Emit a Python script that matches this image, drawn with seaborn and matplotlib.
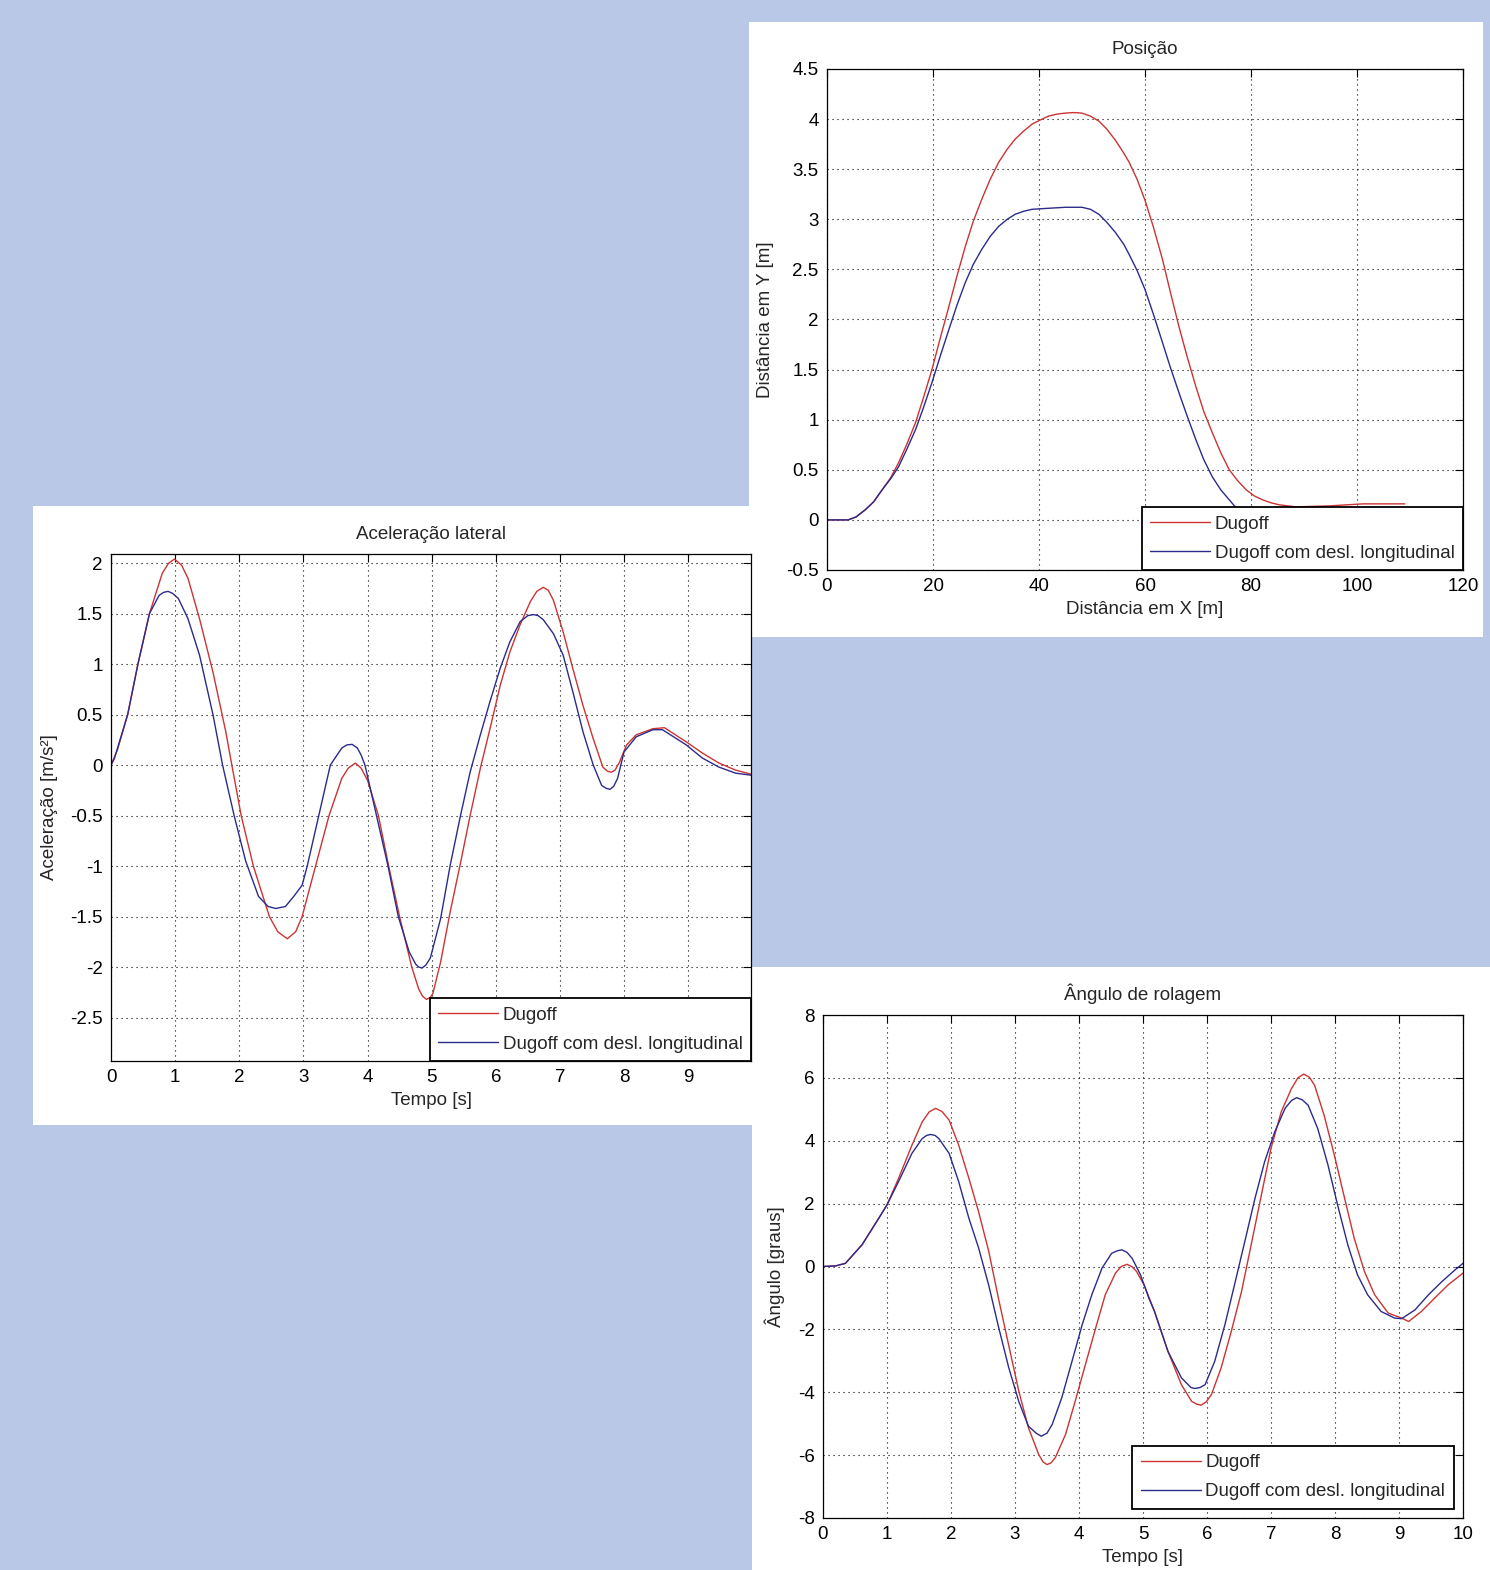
import matplotlib
matplotlib.use("Agg")
import matplotlib.pyplot as plt
from matplotlib.patches import Rectangle
from matplotlib.ticker import FormatStrFormatter
import seaborn as sns

# Posicao (trajectory) - distance X [m] vs distance Y [m]
pos_x_dugoff = [0, 2, 4, 5.5, 7.2, 8.8, 10.4, 12.0, 13.5, 15.1, 16.7, 18.2, 19.8, 21.4, 23.0,
                24.5, 26.1, 27.6, 29.2, 30.8, 32.4, 34.0, 35.5, 37.1, 38.7, 40.2, 41.8, 43.4,
                45.0, 46.5, 48.1, 49.7, 51.3, 52.8, 54.4, 56.0, 57.0, 58.5, 60.0, 61.6, 63.3,
                64.8, 66.4, 68.0, 69.6, 71.1, 72.7, 74.3, 75.9, 77.5, 79.1, 80.6, 82.2, 83.8,
                85.4, 88.5, 94.8, 101.1, 109]
pos_y_dugoff = [0, 0, 0.0, 0.03, 0.1, 0.18, 0.3, 0.42, 0.57, 0.76, 0.97, 1.22, 1.5, 1.82, 2.13,
                2.43, 2.73, 2.98, 3.2, 3.4, 3.57, 3.7, 3.8, 3.88, 3.95, 3.99, 4.03, 4.05,
                4.06, 4.065, 4.06, 4.03, 3.98, 3.9, 3.79, 3.66, 3.57, 3.4, 3.19, 2.92, 2.6,
                2.27, 1.93, 1.62, 1.33, 1.08, 0.87, 0.67, 0.5, 0.39, 0.3, 0.24, 0.2, 0.17,
                0.15, 0.13, 0.14, 0.16, 0.16]
pos_x_long = [0, 2, 4, 5.5, 7.2, 8.8, 10.4, 12.0, 13.5, 15.1, 16.7, 18.2, 19.8, 21.4, 23.0,
              24.5, 26.1, 27.6, 29.2, 30.8, 32.4, 34.0, 35.5, 37.1, 38.7, 41.8, 45.0, 48.1,
              49.7, 51.3, 52.8, 54.4, 56.0, 57.0, 58.5, 60.0, 61.6, 63.3, 64.8, 66.4, 68.0,
              69.6, 71.1, 72.7, 74.3, 75.9, 77.2, 79, 82]
pos_y_long = [0, 0, 0.0, 0.03, 0.1, 0.18, 0.3, 0.41, 0.53, 0.71, 0.9, 1.12, 1.37, 1.64, 1.9,
              2.14, 2.37, 2.55, 2.7, 2.83, 2.93, 3.0, 3.05, 3.08, 3.1, 3.11, 3.12, 3.12,
              3.1, 3.05, 2.97, 2.87, 2.75, 2.65, 2.49, 2.3, 2.05, 1.77, 1.52, 1.27, 1.03,
              0.8, 0.6, 0.43, 0.3, 0.2, 0.12, 0.05, 0.0]

# Aceleracao lateral [m/s2] vs tempo [s]
acc_t_dugoff = [0, 0.1, 0.26, 0.42, 0.6, 0.8, 0.9, 0.99, 1.1, 1.2, 1.38, 1.59, 1.79, 1.87,
                2.03, 2.22, 2.47, 2.6, 2.75, 2.88, 2.98, 3.19, 3.4, 3.6, 3.7, 3.81, 3.9, 4.0,
                4.17, 4.33, 4.5, 4.69, 4.8, 4.86, 4.92, 4.98, 5.02, 5.14, 5.29, 5.45, 5.6,
                5.76, 5.91, 6.07, 6.22, 6.38, 6.54, 6.64, 6.74, 6.82, 6.9, 7.05, 7.2, 7.36,
                7.52, 7.67, 7.74, 7.8, 7.86, 7.93, 8.04, 8.19, 8.45, 8.63, 8.97, 9.22, 9.48,
                9.74, 9.98]
acc_dugoff = [0, 0.15, 0.5, 1.0, 1.5, 1.9, 2.0, 2.04, 1.98, 1.85, 1.45, 0.92, 0.33, 0.05,
              -0.5, -1.0, -1.5, -1.65, -1.72, -1.65, -1.5, -1.0, -0.5, -0.13, -0.03, 0.02,
              -0.03, -0.15, -0.5, -1.0, -1.5, -2.0, -2.22, -2.29, -2.32, -2.3, -2.26, -1.95,
              -1.45, -0.97, -0.5, -0.03, 0.36, 0.79, 1.12, 1.39, 1.62, 1.72, 1.76, 1.73,
              1.63, 1.32, 0.96, 0.59, 0.26, -0.02, -0.06, -0.07, -0.05, 0.03, 0.2, 0.3,
              0.36, 0.37, 0.23, 0.12, 0.02, -0.05, -0.09]
acc_t_long = [0, 0.05, 0.26, 0.42, 0.6, 0.75, 0.82, 0.89, 0.96, 1.05, 1.2, 1.38, 1.59, 1.74,
              1.92, 2.1, 2.3, 2.45, 2.57, 2.72, 2.85, 2.98, 3.06, 3.24, 3.42, 3.6, 3.68, 3.76,
              3.84, 3.9, 3.96, 4.14, 4.32, 4.48, 4.65, 4.75, 4.8, 4.85, 4.91, 4.98, 5.14,
              5.29, 5.45, 5.6, 5.76, 5.91, 6.07, 6.22, 6.38, 6.5, 6.59, 6.66, 6.74, 6.9,
              7.05, 7.2, 7.36, 7.52, 7.65, 7.72, 7.78, 7.84, 7.9, 8.0, 8.19, 8.45, 8.6, 8.97,
              9.22, 9.48, 9.74, 9.98]
acc_long = [0, 0.06, 0.5, 1.0, 1.5, 1.68, 1.71, 1.72, 1.7, 1.65, 1.45, 1.09, 0.5, 0.0, -0.5,
            -0.95, -1.3, -1.4, -1.42, -1.4, -1.3, -1.19, -1.0, -0.5, 0.0, 0.17, 0.2, 0.205,
            0.17, 0.1, 0.0, -0.5, -1.0, -1.5, -1.85, -1.97, -2.0, -2.01, -1.98, -1.91,
            -1.52, -0.99, -0.5, -0.07, 0.3, 0.63, 0.96, 1.22, 1.42, 1.48, 1.49, 1.48, 1.44,
            1.3, 1.09, 0.73, 0.33, 0.0, -0.2, -0.23, -0.24, -0.21, -0.13, 0.13, 0.28, 0.35,
            0.35, 0.2, 0.07, -0.02, -0.08, -0.1]

# Angulo de rolagem [graus] vs tempo [s]
roll_t_dugoff = [0, 0.2, 0.35, 0.61, 0.87, 1.0, 1.18, 1.39, 1.55, 1.66, 1.76, 1.86, 1.97, 2.12,
                 2.28, 2.43, 2.59, 2.74, 2.9, 3.06, 3.21, 3.37, 3.44, 3.5, 3.56, 3.63, 3.79,
                 3.94, 4.1, 4.26, 4.41, 4.57, 4.66, 4.75, 4.83, 4.9, 5.02, 5.18, 5.39, 5.6,
                 5.76, 5.84, 5.91, 5.99, 6.07, 6.22, 6.38, 6.54, 6.69, 6.85, 7.0, 7.16, 7.32,
                 7.42, 7.51, 7.6, 7.68, 7.83, 7.99, 8.15, 8.3, 8.46, 8.62, 8.83, 9.04, 9.15,
                 9.35, 9.56, 9.77, 10.0]
roll_dugoff = [0, 0.02, 0.1, 0.69, 1.53, 1.96, 2.8, 3.86, 4.6, 4.92, 5.03, 4.93, 4.66, 3.86,
               2.8, 1.75, 0.48, -1.0, -2.49, -3.97, -5.13, -5.98, -6.22, -6.30, -6.25, -6.08,
               -5.34, -4.29, -3.12, -1.96, -0.9, -0.21, 0.0, 0.07, -0.01, -0.16, -0.6, -1.43,
               -2.7, -3.76, -4.29, -4.38, -4.41, -4.3, -4.07, -3.23, -2.06, -0.79, 0.69, 2.28,
               3.76, 4.92, 5.66, 6.0, 6.12, 6.02, 5.77, 4.81, 3.54, 2.17, 0.9, -0.16, -0.9,
               -1.48, -1.64, -1.75, -1.43, -1.0, -0.58, -0.21]
roll_t_long = [0, 0.2, 0.35, 0.61, 0.87, 1.0, 1.18, 1.39, 1.55, 1.62, 1.68, 1.75, 1.81, 1.97,
               2.12, 2.28, 2.43, 2.59, 2.74, 2.9, 3.06, 3.21, 3.33, 3.41, 3.5, 3.58, 3.73,
               3.89, 4.05, 4.2, 4.36, 4.51, 4.6, 4.67, 4.75, 4.83, 4.96, 5.09, 5.18, 5.39,
               5.6, 5.75, 5.81, 5.89, 5.97, 6.12, 6.28, 6.43, 6.59, 6.75, 6.9, 7.06, 7.22,
               7.32, 7.4, 7.49, 7.58, 7.73, 7.89, 8.04, 8.2, 8.35, 8.51, 8.72, 8.93, 9.04,
               9.25, 9.46, 9.67, 9.88, 10.0]
roll_long = [0, 0.02, 0.1, 0.69, 1.53, 1.96, 2.7, 3.6, 4.07, 4.17, 4.2, 4.17, 4.07, 3.6, 2.7,
             1.53, 0.6, -0.6, -1.9, -3.2, -4.3, -5.08, -5.3, -5.40, -5.3, -5.03, -4.18,
             -3.02, -1.85, -0.9, -0.05, 0.42, 0.5, 0.53, 0.45, 0.26, -0.26, -1.0, -1.43,
             -2.7, -3.54, -3.85, -3.88, -3.85, -3.76, -3.02, -1.85, -0.58, 0.79, 2.17, 3.33,
             4.29, 5.03, 5.28, 5.37, 5.3, 5.13, 4.39, 3.23, 1.96, 0.69, -0.26, -0.9, -1.43,
             -1.64, -1.66, -1.38, -0.9, -0.48, -0.1, 0.1]

labels = ["Dugoff", "Dugoff com desl. longitudinal"]
colors = ["#CC3333", "#2B2B8C"]

W, H = 1490, 1570
sns.set_style("white")
plt.rcParams["font.family"] = ["Liberation Sans", "DejaVu Sans"]
plt.rcParams["font.size"] = 13.5
plt.rcParams["axes.unicode_minus"] = False

fig = plt.figure(figsize=(W / 100, H / 100), dpi=100)
fig.patch.set_facecolor("#B8C8E6")


def px_rect(left, top, right, bottom):
    return [left / W, 1 - bottom / H, (right - left) / W, (bottom - top) / H]


# white panels behind each plot
for left, top, right, bottom in [(33, 506, 752, 1125), (749, 22, 1483, 637), (752, 967, 1490, 1570)]:
    r = px_rect(left, top, right, bottom)
    fig.add_artist(Rectangle((r[0], r[1]), r[2], r[3], transform=fig.transFigure,
                             facecolor="white", edgecolor="none", zorder=0))


def style_axes(ax, title, xlabel, ylabel, legend_pad):
    ax.set_facecolor("white")
    ax.grid(True, linestyle=(0, (1, 3.5)), color="black", linewidth=0.8)
    ax.tick_params(direction="in", length=6, width=0.8, top=True, right=True,
                   colors="black", labelsize=13.5, pad=6)
    for s in ax.spines.values():
        s.set_color("black")
        s.set_linewidth(0.9)
    ax.set_title(title, fontsize=13.5, pad=11)
    ax.set_xlabel(xlabel, fontsize=13.5, labelpad=4)
    ax.set_ylabel(ylabel, fontsize=13.5, labelpad=9)
    leg = ax.legend(loc="lower right", fancybox=False, framealpha=1, edgecolor="black",
                    fontsize=13.5, handlelength=3.2, handletextpad=0.25, borderpad=0.45,
                    labelspacing=0.62, borderaxespad=legend_pad)
    leg.get_frame().set_linewidth(1.3)


# Posicao
ax1 = fig.add_axes(px_rect(827, 69, 1463, 570))
sns.lineplot(x=pos_x_dugoff, y=pos_y_dugoff, color=colors[0], linewidth=1.0, label=labels[0], ax=ax1)
sns.lineplot(x=pos_x_long, y=pos_y_long, color=colors[1], linewidth=1.0, label=labels[1], ax=ax1)
ax1.set_xlim(0, 120)
ax1.set_ylim(-0.5, 4.5)
ax1.set_xticks(range(0, 121, 20))
ax1.set_yticks([-0.5 + 0.5 * i for i in range(11)])
ax1.yaxis.set_major_formatter(FormatStrFormatter("%g"))
style_axes(ax1, "Posição", "Distância em X [m]", "Distância em Y [m]", 0)

# Aceleracao lateral
ax2 = fig.add_axes(px_rect(111, 554, 751, 1061))
sns.lineplot(x=acc_t_dugoff, y=acc_dugoff, color=colors[0], linewidth=1.0, label=labels[0], ax=ax2)
sns.lineplot(x=acc_t_long, y=acc_long, color=colors[1], linewidth=1.0, label=labels[1], ax=ax2)
ax2.set_xlim(0, 9.98)
ax2.set_ylim(-2.93, 2.09)
ax2.set_xticks(range(0, 10))
ax2.set_yticks([-2.5 + 0.5 * i for i in range(10)])
ax2.yaxis.set_major_formatter(FormatStrFormatter("%g"))
style_axes(ax2, "Aceleração lateral", "Tempo [s]", "Aceleração [m/s²]", 0)

# Angulo de rolagem
ax3 = fig.add_axes(px_rect(823, 1015, 1463, 1518))
sns.lineplot(x=roll_t_dugoff, y=roll_dugoff, color=colors[0], linewidth=1.0, label=labels[0], ax=ax3)
sns.lineplot(x=roll_t_long, y=roll_long, color=colors[1], linewidth=1.0, label=labels[1], ax=ax3)
ax3.set_xlim(0, 10)
ax3.set_ylim(-8, 8)
ax3.set_xticks(range(0, 11))
ax3.set_yticks(range(-8, 9, 2))
style_axes(ax3, "Ângulo de rolagem", "Tempo [s]", "Ângulo [graus]", 0.5)

fig.savefig("out.png", dpi=100, facecolor=fig.get_facecolor())
